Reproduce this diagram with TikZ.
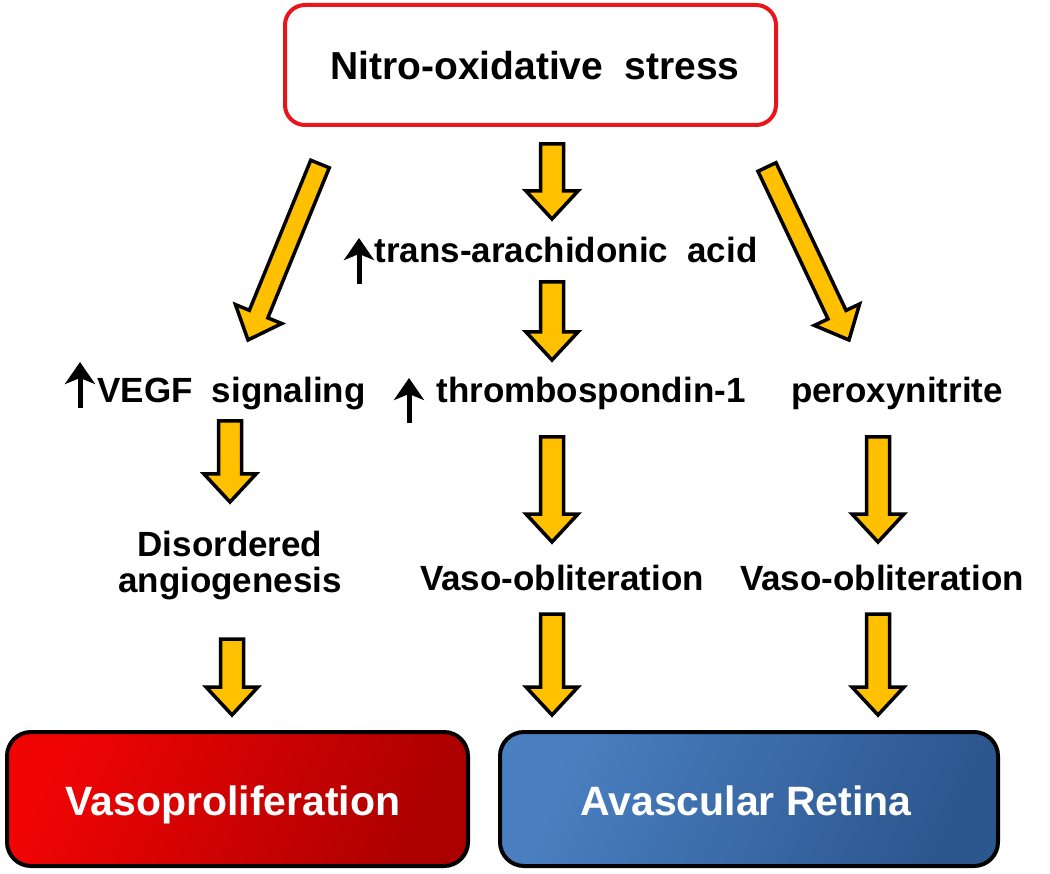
\documentclass[tikz,border=0pt]{standalone}
\usepackage{fontspec}
\setmainfont{Liberation Sans}
\usetikzlibrary{calc,arrows.meta}
\definecolor{gold}{RGB}{255,192,0}
\definecolor{topred}{RGB}{232,22,28}
\definecolor{redA}{RGB}{240,4,4}
\definecolor{redB}{RGB}{172,0,0}
\definecolor{blueA}{RGB}{74,128,194}
\definecolor{blueB}{RGB}{44,86,142}
\newcommand{\ws}{\hspace{0.55em}}
\newcommand{\blockarrow}[4]{%
  \coordinate (hb) at ($(#2)!28pt!(#1)$);
  \draw[barrowstyle] ($(#1)!#3!90:(#2)$) -- ($(hb)!#3!-90:(#1)$) -- ($(hb)!#4!-90:(#1)$) -- (#2) -- ($(hb)!#4!90:(#1)$) -- ($(hb)!#3!90:(#1)$) -- ($(#1)!#3!-90:(#2)$) -- cycle;}
\tikzset{
  lbl/.style={font=\bfseries\fontsize{35}{36}\selectfont, inner sep=0pt, align=center},
  topbox/.style={draw=topred, line width=4pt, rounded corners=20pt, fill=white,
    minimum width=491pt, minimum height=120pt, inner sep=0pt},
  outbox/.style={draw=black, line width=4pt, rounded corners=24pt,
    minimum height=134pt, inner sep=0pt},
  boxtext/.style={font=\bfseries\fontsize{41}{44}\selectfont, text=white, inner sep=0pt},
  barrowstyle/.style={draw=black, fill=gold, line width=3.5pt, line join=miter},
  uparr/.style={line width=5pt, -{Stealth[width=30pt,length=22pt,inset=6pt]}}
}
\begin{document}
\begin{tikzpicture}[x=1pt,y=-1pt]
\useasboundingbox (0,0) rectangle (1050,874);
\fill[white] (0,0) rectangle (1050,874);

% top box
\node[topbox] (top) at (530.5,65) {};
\node[font=\bfseries\fontsize{39}{44}\selectfont, inner sep=0pt, anchor=base] (toptext) at (535,80) {Nitro-oxidative\ws stress};

% bottom boxes
\node[outbox, minimum width=461pt, left color=redA, right color=redB, shading angle=65] (vaso) at (237.5,799) {};
\node[boxtext, anchor=base] (vasotext) at (233,815) {Vasoproliferation};
\node[outbox, minimum width=498pt, left color=blueA, right color=blueB, shading angle=65] (avas) at (749,799) {};
\node[boxtext, anchor=base] (avastext) at (746,815) {Avascular Retina};

% middle texts
\node[lbl, anchor=base] (trans) at (566,263) {trans-arachidonic\ws acid};
\node[lbl, anchor=base] (vegf) at (231.5,403) {VEGF\ws signaling};
\node[lbl, anchor=base] (thrombo) at (591,403) {thrombospondin-1};
\node[lbl, anchor=base] (perox) at (897,403) {peroxynitrite};
\node[lbl] (disord) at (230,566) {Disordered\\angiogenesis};
\node[lbl, anchor=base] (vob1) at (562,590) {Vaso-obliteration};
\node[lbl, anchor=base] (vob2) at (882,590) {Vaso-obliteration};

% up arrows
\coordinate (u1a) at (359,284); \coordinate (u1b) at (359,238);
\coordinate (u2a) at (80,408);  \coordinate (u2b) at (80,362);
\coordinate (u3a) at (409,423); \coordinate (u3b) at (409,378);
\draw[uparr] (u1a) -- (u1b);
\draw[uparr] (u2a) -- (u2b);
\draw[uparr] (u3a) -- (u3b);

% block arrow end points
\coordinate (d1s) at (320,164); \coordinate (d1e) at (248,340);
\coordinate (d2s) at (767,167); \coordinate (d2e) at (849,340);
\coordinate (c1s) at (552,144); \coordinate (c1e) at (552,219);
\coordinate (c2s) at (552,282); \coordinate (c2e) at (552,360);
\coordinate (l1s) at (230,421); \coordinate (l1e) at (230,502);
\coordinate (l2s) at (232,639); \coordinate (l2e) at (232,715);
\coordinate (m1s) at (552,437); \coordinate (m1e) at (552,542);
\coordinate (m2s) at (552,614); \coordinate (m2e) at (552,715);
\coordinate (r1s) at (878,437); \coordinate (r1e) at (878,542);
\coordinate (r2s) at (878,614); \coordinate (r2e) at (878,715);

\blockarrow{d1s}{d1e}{10pt}{25pt}
\blockarrow{d2s}{d2e}{10pt}{25pt}
\blockarrow{c1s}{c1e}{11.5pt}{26pt}
\blockarrow{c2s}{c2e}{11.5pt}{26pt}
\blockarrow{l1s}{l1e}{11.5pt}{26pt}
\blockarrow{l2s}{l2e}{11.5pt}{26pt}
\blockarrow{m1s}{m1e}{11.5pt}{26pt}
\blockarrow{m2s}{m2e}{11.5pt}{26pt}
\blockarrow{r1s}{r1e}{11.5pt}{26pt}
\blockarrow{r2s}{r2e}{11.5pt}{26pt}
\end{tikzpicture}
\end{document}
